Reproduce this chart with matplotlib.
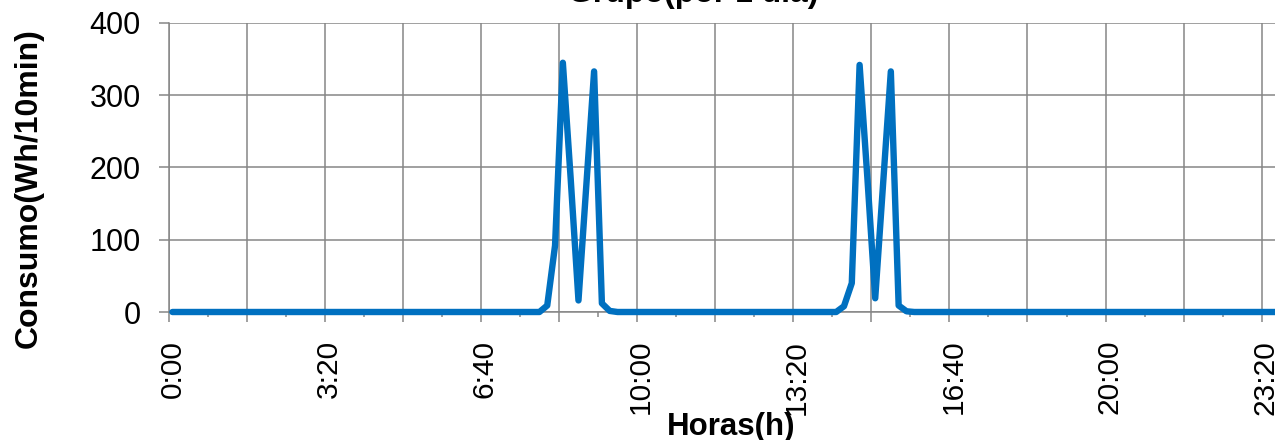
import matplotlib
matplotlib.use("Agg")
import matplotlib.pyplot as plt

plt.rcParams["font.family"] = ["Liberation Sans", "DejaVu Sans"]

# consumo cada 10 minutos (144 intervalos, 0:00 -> 23:50), una fila = 2 horas
consumo = [
    0, 0, 0, 0, 0, 0, 0, 0, 0, 0, 0, 0,
    0, 0, 0, 0, 0, 0, 0, 0, 0, 0, 0, 0,
    0, 0, 0, 0, 0, 0, 0, 0, 0, 0, 0, 0,
    0, 0, 0, 0, 0, 0, 0, 0, 0, 0, 0, 0,
    9, 92, 345, 185, 16, 175, 333, 12, 1.5, 0, 0, 0,
    0, 0, 0, 0, 0, 0, 0, 0, 0, 0, 0, 0,
    0, 0, 0, 0, 0, 0, 0, 0, 0, 0, 0, 0,
    0, 0, 8, 40, 342, 185, 19, 175, 333, 9, 1, 0,
    0, 0, 0, 0, 0, 0, 0, 0, 0, 0, 0, 0,
    0, 0, 0, 0, 0, 0, 0, 0, 0, 0, 0, 0,
    0, 0, 0, 0, 0, 0, 0, 0, 0, 0, 0, 0,
    0, 0, 0, 0, 0, 0, 0, 0, 0, 0, 0, 0,
]
etiquetas = ["0:00", "3:20", "6:40", "10:00", "13:20", "16:40", "20:00", "23:20"]
etiqueta_idx = [0, 20, 40, 60, 80, 100, 120, 140]
y_ticks = [0, 100, 200, 300, 400]

GRIS = "#868686"
AZUL = "#0070C0"

fig = plt.figure(figsize=(12.75, 4.4), dpi=100)
ax = fig.add_axes([168.5 / 1275, 1 - 312 / 440, 1124.5 / 1275, 289 / 440])

# cada punto va centrado en su categoria (como Excel "entre marcas")
x = [i + 0.5 for i in range(len(consumo))]
ax.plot(x, consumo, color=AZUL, linewidth=4.6, solid_joinstyle="round",
        solid_capstyle="round", zorder=3, clip_on=False)

ax.set_xlim(0, len(consumo))
ax.set_ylim(0, 400)

ax.set_xticks(range(0, len(consumo) + 1, 10))
ax.set_xticks(range(0, len(consumo) + 1, 5), minor=True)
ax.set_xticklabels([])
ax.set_yticks(y_ticks)
ax.set_yticklabels([str(v) for v in y_ticks], fontsize=22)

ax.grid(True, which="major", color=GRIS, linewidth=1.1)
ax.set_axisbelow(True)
ax.tick_params(axis="x", which="major", length=7.5, width=1.1, color=GRIS)
ax.tick_params(axis="x", which="minor", length=3.5, width=1.1, color=GRIS)
ax.tick_params(axis="y", length=7, width=1.1, color=GRIS, pad=13)

for s in ["top", "right"]:
    ax.spines[s].set_visible(False)
for s in ["left", "bottom"]:
    ax.spines[s].set_color(GRIS)
    ax.spines[s].set_linewidth(1.1)

# etiquetas de hora centradas en la categoria
sec = ax.secondary_xaxis("bottom")
sec.set_xticks([i + 0.5 for i in etiqueta_idx])
sec.set_xticklabels(etiquetas, rotation=90, fontsize=21.5)
sec.tick_params(length=0, pad=20)
sec.spines["bottom"].set_visible(False)

ax.set_xlabel("Horas(h)", fontsize=22.5, fontweight="bold")
ax.xaxis.set_label_coords(0.5, -0.345)

fig.text(29 / 1275, 1 - 188.5 / 440, "Consumo(Wh/10min)", rotation=90,
         fontsize=23, fontweight="bold", ha="center", va="center")

fig.text(818 / 1275, 1 - 2 / 440, "Grupo(por 1 dia)", fontsize=23,
         fontweight="bold", ha="right", va="baseline")

fig.savefig("out.png", dpi=100)
